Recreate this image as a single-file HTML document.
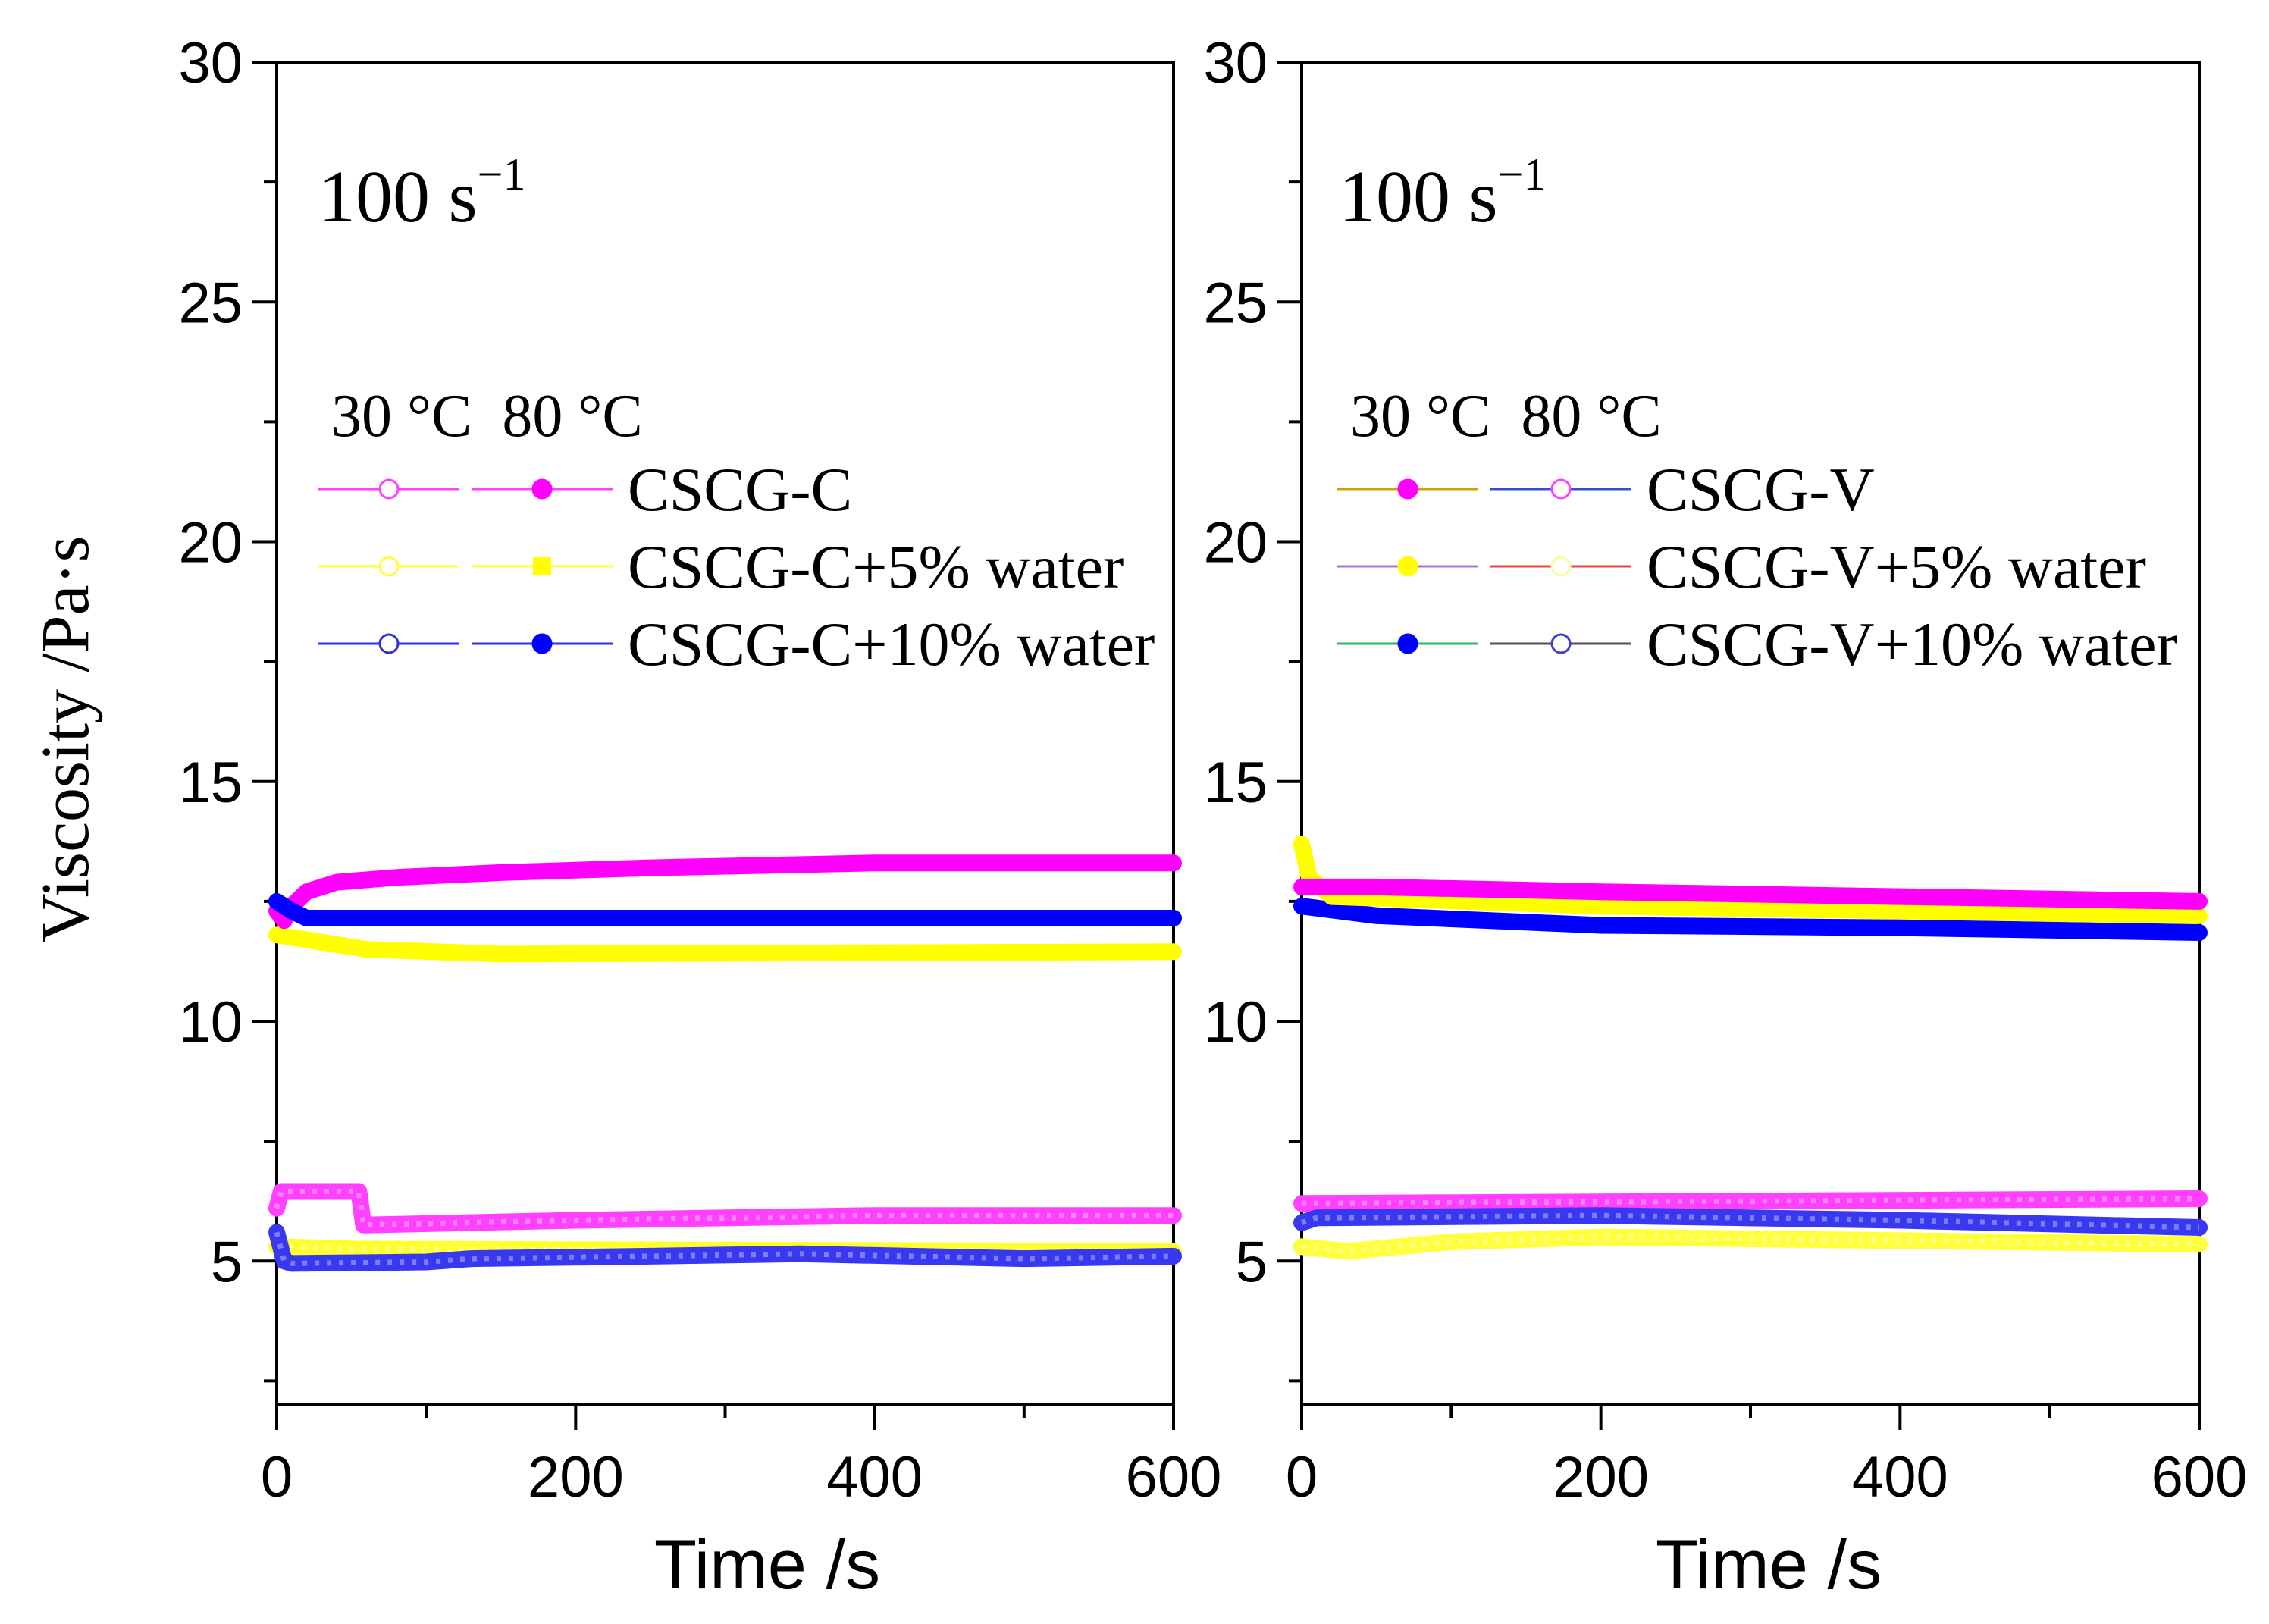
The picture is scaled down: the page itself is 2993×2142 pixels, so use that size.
<!DOCTYPE html>
<html><head><meta charset="utf-8"><style>
html,body{margin:0;padding:0;background:#fff;}
svg{display:block;}
</style></head><body>
<svg id="chart" width="2993" height="2142" viewBox="0 0 2993 2142" xmlns="http://www.w3.org/2000/svg"></svg>
<script>
// ---- data ----
const yTicks = [5, 10, 15, 20, 25, 30];
const xTicks = [0, 200, 400, 600];
// Left panel (CSCG-C)
const leftT_c80 = [0, 5, 10, 20, 40, 80, 150, 250, 400, 600];
const leftV_c80 = [12.3, 12.1, 12.4, 12.7, 12.9, 13.0, 13.1, 13.2, 13.3, 13.3];
const leftT_w10_80 = [0, 10, 20, 600];
const leftV_w10_80 = [12.5, 12.3, 12.15, 12.15];
const leftT_w5_80 = [0, 20, 60, 150, 600];
const leftV_w5_80 = [11.8, 11.7, 11.5, 11.4, 11.45];
const leftT_c30 = [0, 3, 55, 58, 200, 400, 600];
const leftV_c30 = [6.1, 6.45, 6.45, 5.75, 5.85, 5.95, 5.95];
const leftT_w5_30 = [0, 50, 600];
const leftV_w5_30 = [5.3, 5.25, 5.2];
const leftT_w10_30 = [0, 5, 10, 100, 130, 250, 350, 500, 600];
const leftV_w10_30 = [5.6, 5.0, 4.95, 4.98, 5.05, 5.1, 5.15, 5.05, 5.1];
// Right panel (CSCG-V)
const rightT_v30 = [0, 50, 200, 400, 600];
const rightV_v30 = [12.8, 12.8, 12.7, 12.6, 12.5];
const rightT_w5_30 = [0, 5, 20, 200, 600];
const rightV_w5_30 = [13.7, 13.0, 12.6, 12.4, 12.2];
const rightT_w10_30 = [0, 50, 200, 400, 600];
const rightV_w10_30 = [12.4, 12.2, 12.0, 11.95, 11.85];
const rightT_v80 = [0, 300, 600];
const rightV_v80 = [6.2, 6.25, 6.3];
const rightT_w10_80 = [0, 10, 200, 400, 600];
const rightV_w10_80 = [5.8, 5.9, 5.95, 5.85, 5.7];
const rightT_w5_80 = [0, 30, 100, 200, 600];
const rightV_w5_80 = [5.3, 5.2, 5.4, 5.5, 5.35];

const NS = "http://www.w3.org/2000/svg";
const svg = document.getElementById('chart');
function mk(tag, attrs, parent) {
  const e = document.createElementNS(NS, tag);
  for (const k in attrs) e.setAttribute(k, attrs[k]);
  (parent || svg).appendChild(e);
  return e;
}
const Y0 = 1853, Y1 = 82, YMIN = 2, YMAX = 30;
function yScale(v) { return Y0 - (v - YMIN) / (YMAX - YMIN) * (Y0 - Y1); }

function panel(px0, px1, name, titleX) {
  const g = mk('g', {});
  
  
  const xs = t => px0 + t / 600 * (px1 - px0);
  const frame = mk('rect', {x: px0, y: Y1, width: px1 - px0, height: Y0 - Y1, fill: 'none', stroke: '#000', 'stroke-width': 4}, g);
  
  
  for (let v = 2.5; v <= 30; v += 2.5) {
    const major = Math.abs(v % 5) < 0.01;
    const t = mk('line', {x1: px0 - (major ? 32 : 17), x2: px0, y1: yScale(v), y2: yScale(v), stroke: '#000', 'stroke-width': 4}, g);
    
    
  }
  yTicks.forEach(v => {
    const tx = mk('text', {x: px0 - 45, y: yScale(v) + 27, 'text-anchor': 'end', 'font-family': 'Liberation Sans, sans-serif', 'font-size': 76}, g);
    tx.textContent = v;
    
    
  });
  for (let t = 0; t <= 600; t += 100) {
    const major = t % 200 === 0;
    const l = mk('line', {x1: xs(t), x2: xs(t), y1: Y0, y2: Y0 + (major ? 33 : 17), stroke: '#000', 'stroke-width': 4}, g);
    
    
  }
  xTicks.forEach(t => {
    const tx = mk('text', {x: xs(t), y: 1974, 'text-anchor': 'middle', 'font-family': 'Liberation Sans, sans-serif', 'font-size': 76}, g);
    tx.textContent = t;
    
    
  });
  const xt = mk('text', {x: titleX, y: 2095, 'text-anchor': 'middle', 'font-family': 'Liberation Sans, sans-serif', 'font-size': 92}, g);
  xt.textContent = 'Time /s';
  
  
  return {g, xs};
}

function series(p, ts, vs, color, open, name) {
  const pts = ts.map((t, i) => p.xs(t).toFixed(1) + ',' + yScale(vs[i]).toFixed(1)).join(' ');
  const s = mk('polyline', {points: pts, fill: 'none', stroke: color, 'stroke-width': 22, 'stroke-linejoin': 'round', 'stroke-linecap': 'round'}, p.g);
  
  
  if (open) {
    const inner = mk('polyline', {points: pts, fill: 'none', stroke: '#fff', 'stroke-opacity': 0.35, 'stroke-width': 7, 'stroke-dasharray': '6 10'}, p.g);
    
    
  }
}

function legend(p, x0, rows) {
  const h = mk('text', {x: x0 + 17, y: 575, 'font-family': 'Liberation Serif, serif', 'font-size': 80}, p.g);
  
  
  const a = mk('tspan', {}, h); a.textContent = '30 \u00B0C';
  const b = mk('tspan', {dx: 40}, h); b.textContent = '80 \u00B0C';
  rows.forEach((r, i) => {
    const cy = 645 + i * 102;
    [[0, r.l1, r.m1, r.f1], [202, r.l2, r.m2, r.f2]].forEach(([dx, lc, mc, filled]) => {
      const ln = mk('line', {x1: x0 + dx, x2: x0 + dx + 186, y1: cy, y2: cy, stroke: lc, 'stroke-width': 3}, p.g);
      
      
      const m = r.square && filled
        ? mk('rect', {x: x0 + dx + 81, y: cy - 12, width: 24, height: 24, fill: mc}, p.g)
        : mk('circle', {cx: x0 + dx + 93, cy: cy, r: 12, fill: filled ? mc : '#fff', stroke: mc, 'stroke-width': 3}, p.g);
      
      
    });
    const t = mk('text', {x: x0 + 408, y: cy + 28, 'font-family': 'Liberation Serif, serif', 'font-size': 82}, p.g);
    t.textContent = r.label;
    
    
  });
}

function rateLabel(p, x) {
  const t = mk('text', {x: x, y: 292, 'font-family': 'Liberation Serif, serif', 'font-size': 98}, p.g);
  t.textContent = '100 s';
  
  
  const sup = mk('tspan', {dy: -42, 'font-size': 60}, t);
  sup.textContent = '\u22121';
}

// Left panel
const L = panel(365, 1548, 'left-panel-cscg-c', 1012);
series(L, leftT_c30, leftV_c30, '#ff40ff', true, 'series-cscg-c-30c');
series(L, leftT_w5_30, leftV_w5_30, '#ffff30', true, 'series-cscg-c-5-water-30c');
series(L, leftT_w10_30, leftV_w10_30, '#3838f0', true, 'series-cscg-c-10-water-30c');
series(L, leftT_w5_80, leftV_w5_80, '#ffff00', false, 'series-cscg-c-5-water-80c');
series(L, leftT_c80, leftV_c80, '#ff00ff', false, 'series-cscg-c-80c');
series(L, leftT_w10_80, leftV_w10_80, '#0000ff', false, 'series-cscg-c-10-water-80c');
rateLabel(L, 420);
legend(L, 420, [
  {label: 'CSCG-C', l1: '#ff40ff', m1: '#ff40ff', f1: false, l2: '#ff40ff', m2: '#ff00ff', f2: true},
  {label: 'CSCG-C+5% water', l1: '#ffff40', m1: '#ffff40', f1: false, l2: '#ffff40', m2: '#ffff00', f2: true, square: true},
  {label: 'CSCG-C+10% water', l1: '#3030e0', m1: '#3030e0', f1: false, l2: '#3030e0', m2: '#0000ff', f2: true}
]);

// Right panel
const R = panel(1717, 2901, 'right-panel-cscg-v', 2333);
series(R, rightT_v80, rightV_v80, '#ff40ff', true, 'series-cscg-v-80c');
series(R, rightT_w10_80, rightV_w10_80, '#3838f0', true, 'series-cscg-v-10-water-80c');
series(R, rightT_w5_80, rightV_w5_80, '#ffff40', true, 'series-cscg-v-5-water-80c');
series(R, rightT_w10_30, rightV_w10_30, '#0000ff', false, 'series-cscg-v-10-water-30c');
series(R, rightT_w5_30, rightV_w5_30, '#ffff00', false, 'series-cscg-v-5-water-30c');
series(R, rightT_v30, rightV_v30, '#ff00ff', false, 'series-cscg-v-30c');
rateLabel(R, 1766);
legend(R, 1764, [
  {label: 'CSCG-V', l1: '#d0a000', m1: '#ff00ff', f1: true, l2: '#3050d0', m2: '#ff40ff', f2: false},
  {label: 'CSCG-V+5% water', l1: '#b070e0', m1: '#ffff00', f1: true, l2: '#f04040', m2: '#f0ffa0', f2: false},
  {label: 'CSCG-V+10% water', l1: '#30b070', m1: '#0000ff', f1: true, l2: '#505050', m2: '#4040d0', f2: false}
]);

// Y axis title
const yt = mk('text', {x: 0, y: 0, transform: 'translate(116,975) rotate(-90)', 'text-anchor': 'middle', 'font-family': 'Liberation Serif, serif', 'font-size': 90});
yt.textContent = 'Viscosity /Pa\u00B7s';


</script>
</body></html>
